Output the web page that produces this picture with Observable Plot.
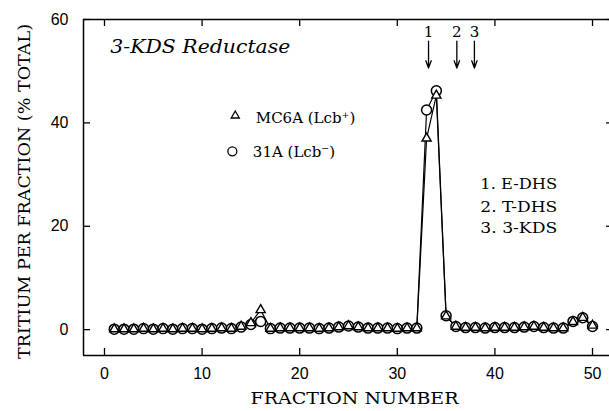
<!DOCTYPE html>
<html>
<head>
<meta charset="utf-8">
<script src="https://cdn.jsdelivr.net/npm/d3@7"></script>
<script src="https://cdn.jsdelivr.net/npm/@observablehq/plot@0.6"></script>
<style>
  html, body { margin: 0; padding: 0; background: #fff; }
  svg { display: block; }
</style>
</head>
<body>
<div id="chart"></div>
<script>
// Fraction numbers
const fractions = [1,2,3,4,5,6,7,8,9,10,11,12,13,14,15,16,17,18,19,20,21,22,23,24,25,26,27,28,29,30,31,32,33,34,35,36,37,38,39,40,41,42,43,44,45,46,47,48,49,50];
// 31A (Lcb-) : circles
const circleValues = [0.1,0.1,0.1,0.2,0.1,0.2,0.1,0.2,0.2,0.1,0.2,0.3,0.2,0.5,1.0,1.6,0.2,0.3,0.3,0.3,0.3,0.2,0.3,0.5,0.7,0.5,0.3,0.3,0.3,0.2,0.3,0.3,42.5,46.2,2.7,0.6,0.4,0.4,0.3,0.4,0.4,0.4,0.5,0.6,0.4,0.3,0.3,1.6,2.3,0.6];
// MC6A (Lcb+) : triangles
const triangleValues = [0.1,0.1,0.1,0.2,0.1,0.2,0.1,0.2,0.2,0.1,0.2,0.3,0.2,0.6,1.3,3.8,0.2,0.3,0.3,0.3,0.3,0.2,0.3,0.5,0.7,0.5,0.3,0.3,0.3,0.2,0.3,0.3,37.0,45.3,2.6,0.6,0.4,0.4,0.3,0.4,0.4,0.4,0.5,0.6,0.4,0.3,0.3,1.5,2.3,0.8];

const xTicks = [0,10,20,30,40,50];
const yTicks = [0,20,40,60];

const arrowX = [33.2, 36.1, 37.9];
const arrowLabels = ["1","2","3"];
const peakNames = ["1. E-DHS","2. T-DHS","3. 3-KDS"];
const peakY = [28.1, 23.7, 19.6];

const circles = fractions.map((f,i)=>({x:f, y:circleValues[i]}));
const triangles = fractions.map((f,i)=>({x:f, y:triangleValues[i]}));
const arrows = arrowX.map((x,i)=>({x, label:arrowLabels[i]}));
const peaks = peakNames.map((t,i)=>({t, y:peakY[i]}));

const X0 = -2.15, X1 = 51.74, Y0 = -5, Y1 = 60;
const serif = "'DejaVu Serif', serif";

const plot = Plot.plot({
  width: 609,
  height: 411,
  marginLeft: 83,
  marginRight: 0,
  marginTop: 19,
  marginBottom: 56,
  x: {domain: [X0, X1]},
  y: {domain: [Y0, Y1]},
  style: {fontFamily: "'Liberation Sans', Arial, sans-serif", background: "#fff", color: "#000"},
  marks: [
    // frame
    Plot.ruleX([X0], {stroke: "#000", strokeWidth: 1.5}),
    Plot.ruleY([Y0], {stroke: "#000", strokeWidth: 1.5}),
    Plot.ruleY([Y1], {stroke: "#000", strokeWidth: 1.5}),
    // inward ticks
    Plot.ruleX(xTicks, {x: d=>d, y1: Y0, y2: Y0 + 1.35, stroke: "#000", strokeWidth: 1.3}),
    Plot.ruleX(xTicks, {x: d=>d, y1: Y1, y2: Y1 - 1.35, stroke: "#000", strokeWidth: 1.3}),
    Plot.ruleY(yTicks, {y: d=>d, x1: X0, x2: X0 + 0.72, stroke: "#000", strokeWidth: 1.3}),
    Plot.ruleY(yTicks, {y: d=>d, x1: X1, x2: X1 - 0.3, stroke: "#000", strokeWidth: 1.3}),
    // tick labels
    Plot.axisX({ticks: xTicks, tickSize: 0, tickPadding: 12, fontSize: 16, label: null}),
    Plot.axisY({ticks: yTicks, tickSize: 0, tickPadding: 15, fontSize: 16, label: null}),
    // axis titles
    Plot.text(["FRACTION NUMBER"], {frameAnchor: "bottom", textAnchor: "middle", dy: 48, dx: 8, fontSize: 17, fontFamily: serif, className: "xtitle"}),
    Plot.text(["TRITIUM PER FRACTION (% TOTAL)"], {frameAnchor: "left", textAnchor: "middle", rotate: -90, dx: -59, dy: 4, fontSize: 17, fontFamily: serif, className: "ytitle"}),
    // data lines
    Plot.line(circles, {x: "x", y: "y", stroke: "#000", strokeWidth: 1.2}),
    Plot.line(triangles, {x: "x", y: "y", stroke: "#000", strokeWidth: 1.2}),
    Plot.dot(circles, {x: "x", y: "y", r: 5, stroke: "#000", strokeWidth: 1.5, fill: "#fff"}),
    Plot.dot(triangles, {x: "x", y: "y", symbol: "triangle", r: 3.4, stroke: "#000", strokeWidth: 1.4, fill: "#fff"}),
    // title
    Plot.text(["3-KDS Reductase"], {x: 0.6, y: 54.6, textAnchor: "start", fontSize: 18, fontStyle: "italic", fontFamily: serif, className: "ttl"}),
    // legend
    Plot.dot([{x: 13.4, y: 41.4}], {x: "x", y: "y", symbol: "triangle", r: 3, stroke: "#000", strokeWidth: 1.3, fill: "none"}),
    Plot.text(["MC6A (Lcb\u207A)"], {x: 15.5, y: 41.0, textAnchor: "start", fontSize: 15, fontFamily: serif}),
    Plot.dot([{x: 13.1, y: 34.5}], {x: "x", y: "y", r: 4.5, stroke: "#000", strokeWidth: 1.3, fill: "none"}),
    Plot.text(["31A (Lcb\u207B)"], {x: 15.2, y: 34.3, textAnchor: "start", fontSize: 15, fontFamily: serif}),
    // arrows
    Plot.arrow(arrows, {x1: "x", x2: "x", y1: 55.8, y2: 50.6, stroke: "#000", strokeWidth: 1.3, headLength: 9, headAngle: 40}),
    Plot.text(arrows, {x: "x", y: 57.6, text: "label", fontSize: 15, fontFamily: serif}),
    // peak names
    Plot.text(peaks, {x: 38.5, y: "y", text: "t", textAnchor: "start", fontSize: 15, fontFamily: serif, className: "peaks"})
  ]
});
document.getElementById("chart").appendChild(plot);
// fit texts to their measured lengths in the reference
d3.select(plot).selectAll(".xtitle text").attr("textLength", 208).attr("lengthAdjust", "spacingAndGlyphs");
d3.select(plot).selectAll(".ytitle text").attr("textLength", 335).attr("lengthAdjust", "spacingAndGlyphs");
d3.select(plot).selectAll(".ttl text").attr("textLength", 180).attr("lengthAdjust", "spacingAndGlyphs");
d3.select(plot).selectAll(".peaks text").attr("textLength", 77).attr("lengthAdjust", "spacingAndGlyphs");
</script>
</body>
</html>
